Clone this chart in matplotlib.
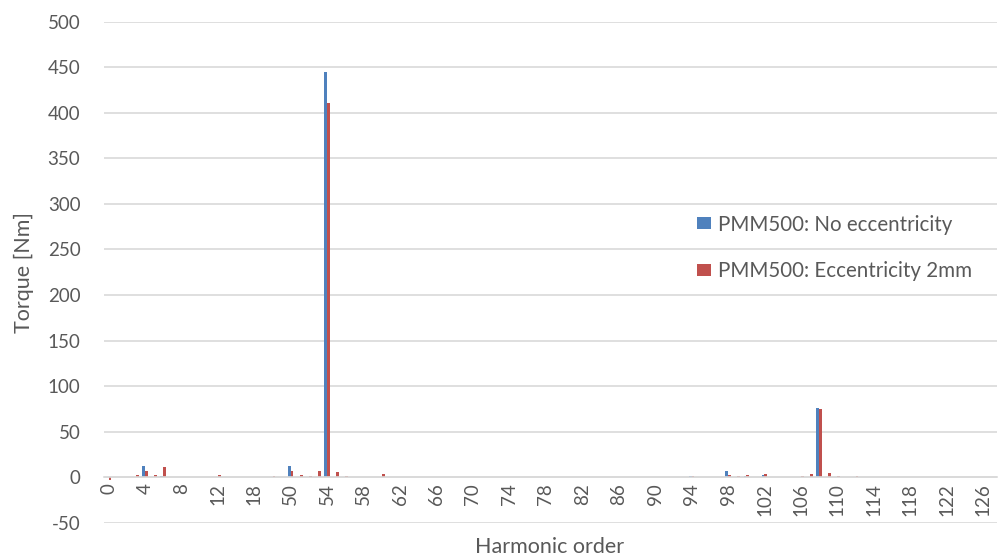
import numpy as np
import matplotlib.pyplot as plt

# Harmonic orders (categories on the x axis)
harmonics = list(range(0, 13)) + [13, 14, 16, 18, 24, 36, 48] + list(range(50, 128))

# Torque per harmonic [Nm]
no_ecc = [0.2, 0.3, 0.8, 0.4, 12.8, 0.3, 1.8, 0.2, 0.4, 0.4,
          0.2, 0.3, 0.3, 0.2, 0.4, 0.2, 0.3, 0.2, 0.3, 0.2,
          12.8, 0.3, 0.4, 0.3, 444.5, 0.4, 0.3, 0.3, 1.0, 0.4,
          1.0, 0.4, 0.4, 0.2, 0.4, 0.2, 0.3, 0.1, 0.1, 0.1,
          0.1, 0.1, 0.1, 0.1, 0.1, 0.1, 0.1, 0.1, 0.1, 0.1,
          0.1, 0.1, 0.1, 0.1, 0.1, 0.1, 0.1, 0.1, 0.1, 0.1,
          0.1, 0.1, 0.1, 0.2, 1.5, 0.2, 0.2, 0.4, 7.3, 0.4,
          1.8, 0.5, 2.2, 0.4, 0.3, 0.5, 0.4, 0.5, 76.0, 0.4,
          0.8, 0.3, 1.0, 0.4, 0.4, 0.3, 0.2, 0.2, 0.4, 0.2,
          0.2, 0.1, 0.2, 0.1, 0.1, 0.1, 0.1, 0.1]
ecc_2mm = [-3.0, 0.5, 1.0, 2.9, 7.3, 2.9, 11.3, 0.3, 0.5, 0.3,
           0.3, 0.5, 2.9, 0.2, 0.5, 0.2, 0.3, 0.2, 1.8, 0.3,
           7.3, 2.9, 1.8, 6.6, 410.6, 5.8, 1.8, 0.5, 1.0, 0.6,
           4.0, 0.5, 0.5, 0.2, 0.5, 0.2, 0.8, 0.1, 0.1, 0.1,
           0.1, 0.1, 0.1, 0.1, 0.1, 0.1, 0.1, 0.1, 0.1, 0.1,
           0.1, 0.1, 0.1, 0.1, 0.1, 0.1, 0.1, 0.1, 0.1, 0.1,
           0.1, 0.1, 0.1, 0.2, 1.5, 0.2, 0.3, 1.0, 2.9, 1.8,
           2.9, 0.4, 3.3, 0.5, 0.5, 0.4, 1.8, 4.0, 75.5, 5.1,
           1.8, 0.3, 1.5, 0.5, 0.4, 0.8, 0.2, 0.2, 0.5, 0.2,
           0.2, 0.1, 0.1, 0.1, 0.1, 0.1, 0.1, 0.1]

series_names = ['PMM500: No eccentricity', 'PMM500: Eccentricity 2mm']
colors = ['#4F81BD', '#C0504D']
text_col = '#595959'
grid_col = '#D9D9D9'

plt.rcParams['font.family'] = ['Lato', 'DejaVu Sans']
plt.rcParams['axes.unicode_minus'] = False

fig = plt.figure(figsize=(10.02, 5.6), dpi=100)
ax = fig.add_axes([0.1038, 0.066, 0.891, 0.8956])

x = np.arange(len(harmonics))
w = 0.3
ax.bar(x - w / 2, no_ecc, width=w, color=colors[0], label=series_names[0])
ax.bar(x + w / 2, ecc_2mm, width=w, color=colors[1], label=series_names[1])

ax.set_xlim(-0.5, len(harmonics) - 0.5)
ax.set_ylim(-50, 500)
ax.set_yticks(np.arange(-50, 501, 50))
ax.yaxis.grid(True, color=grid_col, linewidth=1.2)
ax.set_axisbelow(True)

# category labels sit right under the zero line, like Excel does
ax.spines['bottom'].set_position(('data', 0))
ax.spines['bottom'].set_color(grid_col)
ax.spines['bottom'].set_linewidth(1.2)
for s in ['top', 'right', 'left']:
    ax.spines[s].set_visible(False)
ax.set_xticks(x[::4])
ax.set_xticklabels([str(h) for h in harmonics[::4]], rotation=90)
ax.tick_params(axis='both', length=0, labelsize=13.5, colors=text_col)
ax.tick_params(axis='x', pad=4)
ax.tick_params(axis='y', pad=17)

ax.set_ylabel('Torque [Nm]', fontsize=15.5, color=text_col, labelpad=10)
fig.text(0.548, 0.005, 'Harmonic order', fontsize=15.5, color=text_col, ha='center', va='bottom')

ax.legend(loc='upper left', bbox_to_anchor=(0.643, 0.652), frameon=False,
          fontsize=14.8, labelcolor=text_col, handlelength=0.68, handleheight=0.52,
          handletextpad=0.35, labelspacing=1.3)

fig.savefig('out.png', dpi=100)
